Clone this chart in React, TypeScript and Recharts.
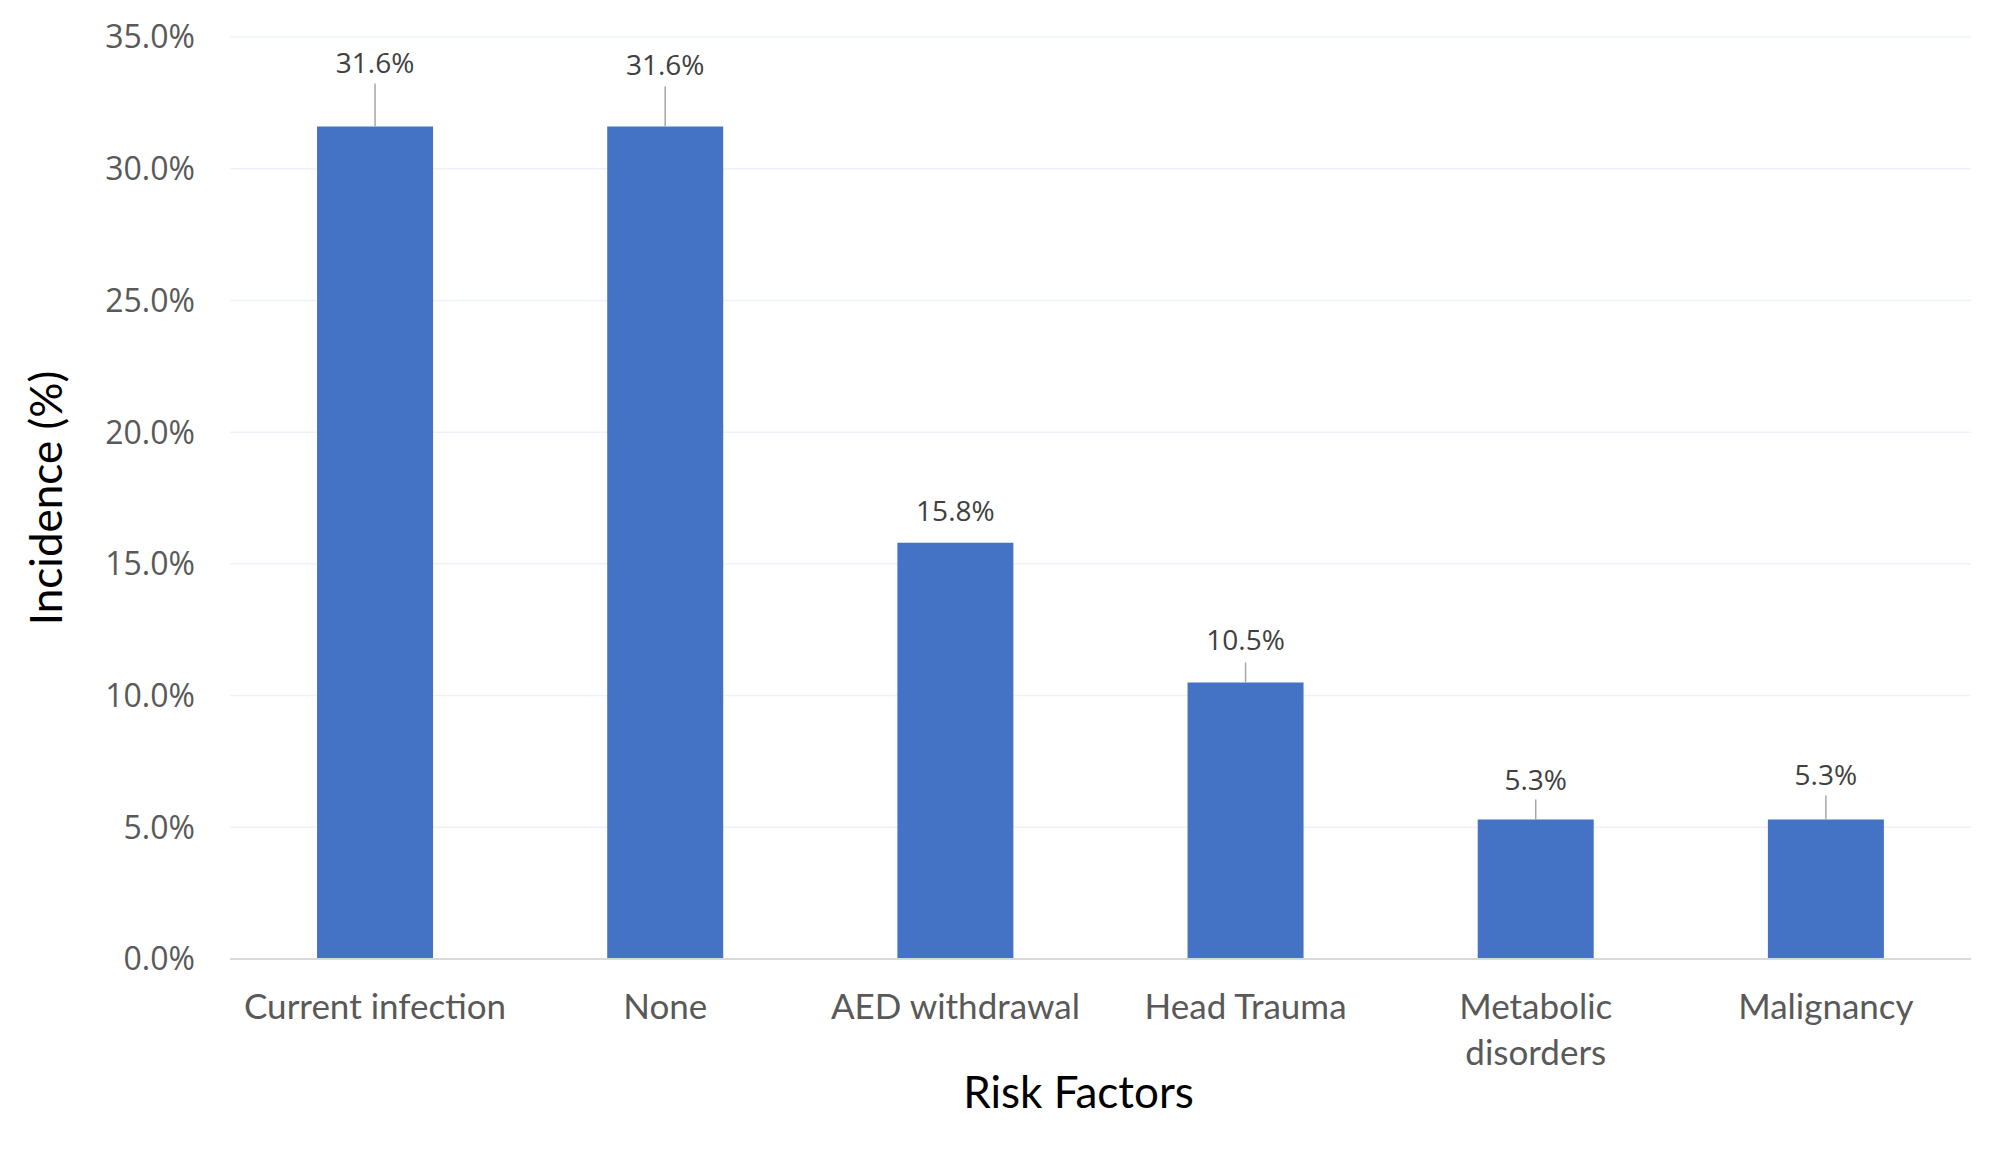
import { BarChart, Bar, XAxis, YAxis, CartesianGrid, LabelList, Label } from 'recharts'

const categories = ['Current infection', 'None', 'AED withdrawal', 'Head Trauma', 'Metabolic disorders', 'Malignancy']
const incidence = [31.6, 31.6, 15.8, 10.5, 5.3, 5.3]
const yTicks = [0, 5, 10, 15, 20, 25, 30, 35]

const data = categories.map((name, i) => ({ name, value: incidence[i] }))

// hand-placed label offsets from the bar top, like the original
const labelLayout = [
  { lift: 65, leader: 43 },
  { lift: 63, leader: 40 },
  { lift: 33, leader: 0 },
  { lift: 43, leader: 20 },
  { lift: 40, leader: 20 },
  { lift: 45, leader: 24 },
]

const ValueLabel = (props: any) => {
  const { x, y, width, value, index } = props
  const cx = x + width / 2
  const l = labelLayout[index] || { lift: 35, leader: 0 }
  return (
    <g>
      {l.leader > 0 && (
        <line x1={cx} x2={cx} y1={y} y2={y - l.leader} stroke="#A6A6A6" strokeWidth={1.5} />
      )}
      <text
        x={cx}
        y={y - l.lift}
        textAnchor="middle"
        dominantBaseline="central"
        fontFamily="'Open Sans', sans-serif"
        fontSize={28}
        fill="#404040"
      >
        {`${Number(value).toFixed(1)}%`}
      </text>
    </g>
  )
}

const CategoryTick = (props: any) => {
  const { x, y, payload } = props
  const text: string = payload.value
  const lines = text.length > 18 ? text.split(' ') : [text]
  return (
    <text
      x={x}
      y={y}
      textAnchor="middle"
      fontFamily="Lato, sans-serif"
      fontSize={35}
      fill="#595959"
    >
      {lines.map((ln, i) => (
        <tspan key={i} x={x} dy={i === 0 ? 30 : 46}>
          {ln}
        </tspan>
      ))}
    </text>
  )
}

export default function App() {
  return (
    <div style={{ position: 'absolute', left: 0, top: 0, background: '#fff' }}>
      <BarChart
        width={2000}
        height={1152}
        data={data}
        margin={{ top: 37, right: 29, bottom: 0, left: 0 }}
        barCategoryGap="30%"
      >
        <CartesianGrid vertical={false} stroke="#EEF2F8" strokeWidth={1.5} />
        <XAxis
          dataKey="name"
          height={193}
          tick={<CategoryTick />}
          tickLine={false}
          axisLine={{ stroke: '#D9D9D9', strokeWidth: 2 }}
          tickMargin={24}
          interval={0}
        >
          <Label
            value="Risk Factors"
            position="insideTop"
            offset={118}
            dx={-22}
            style={{ fontFamily: 'Lato, sans-serif', fontSize: 44, fill: '#000' }}
          />
        </XAxis>
        <YAxis
          width={230}
          domain={[0, 35]}
          ticks={yTicks}
          tickFormatter={(v) => `${v.toFixed(1)}%`}
          tick={{ fontFamily: "'Open Sans', sans-serif", fontSize: 32, fill: '#595959' }}
          tickLine={false}
          tickSize={0}
          tickMargin={35}
          axisLine={false}
        >
          <Label
            value="Incidence (%)"
            angle={-90}
            position="insideLeft"
            offset={46}
            style={{ fontFamily: 'Lato, sans-serif', fontSize: 44, fill: '#000', textAnchor: 'middle' }}
          />
        </YAxis>
        <Bar dataKey="value" fill="#4472C4" isAnimationActive={false}>
          <LabelList dataKey="value" content={<ValueLabel />} />
        </Bar>
      </BarChart>
    </div>
  )
}
